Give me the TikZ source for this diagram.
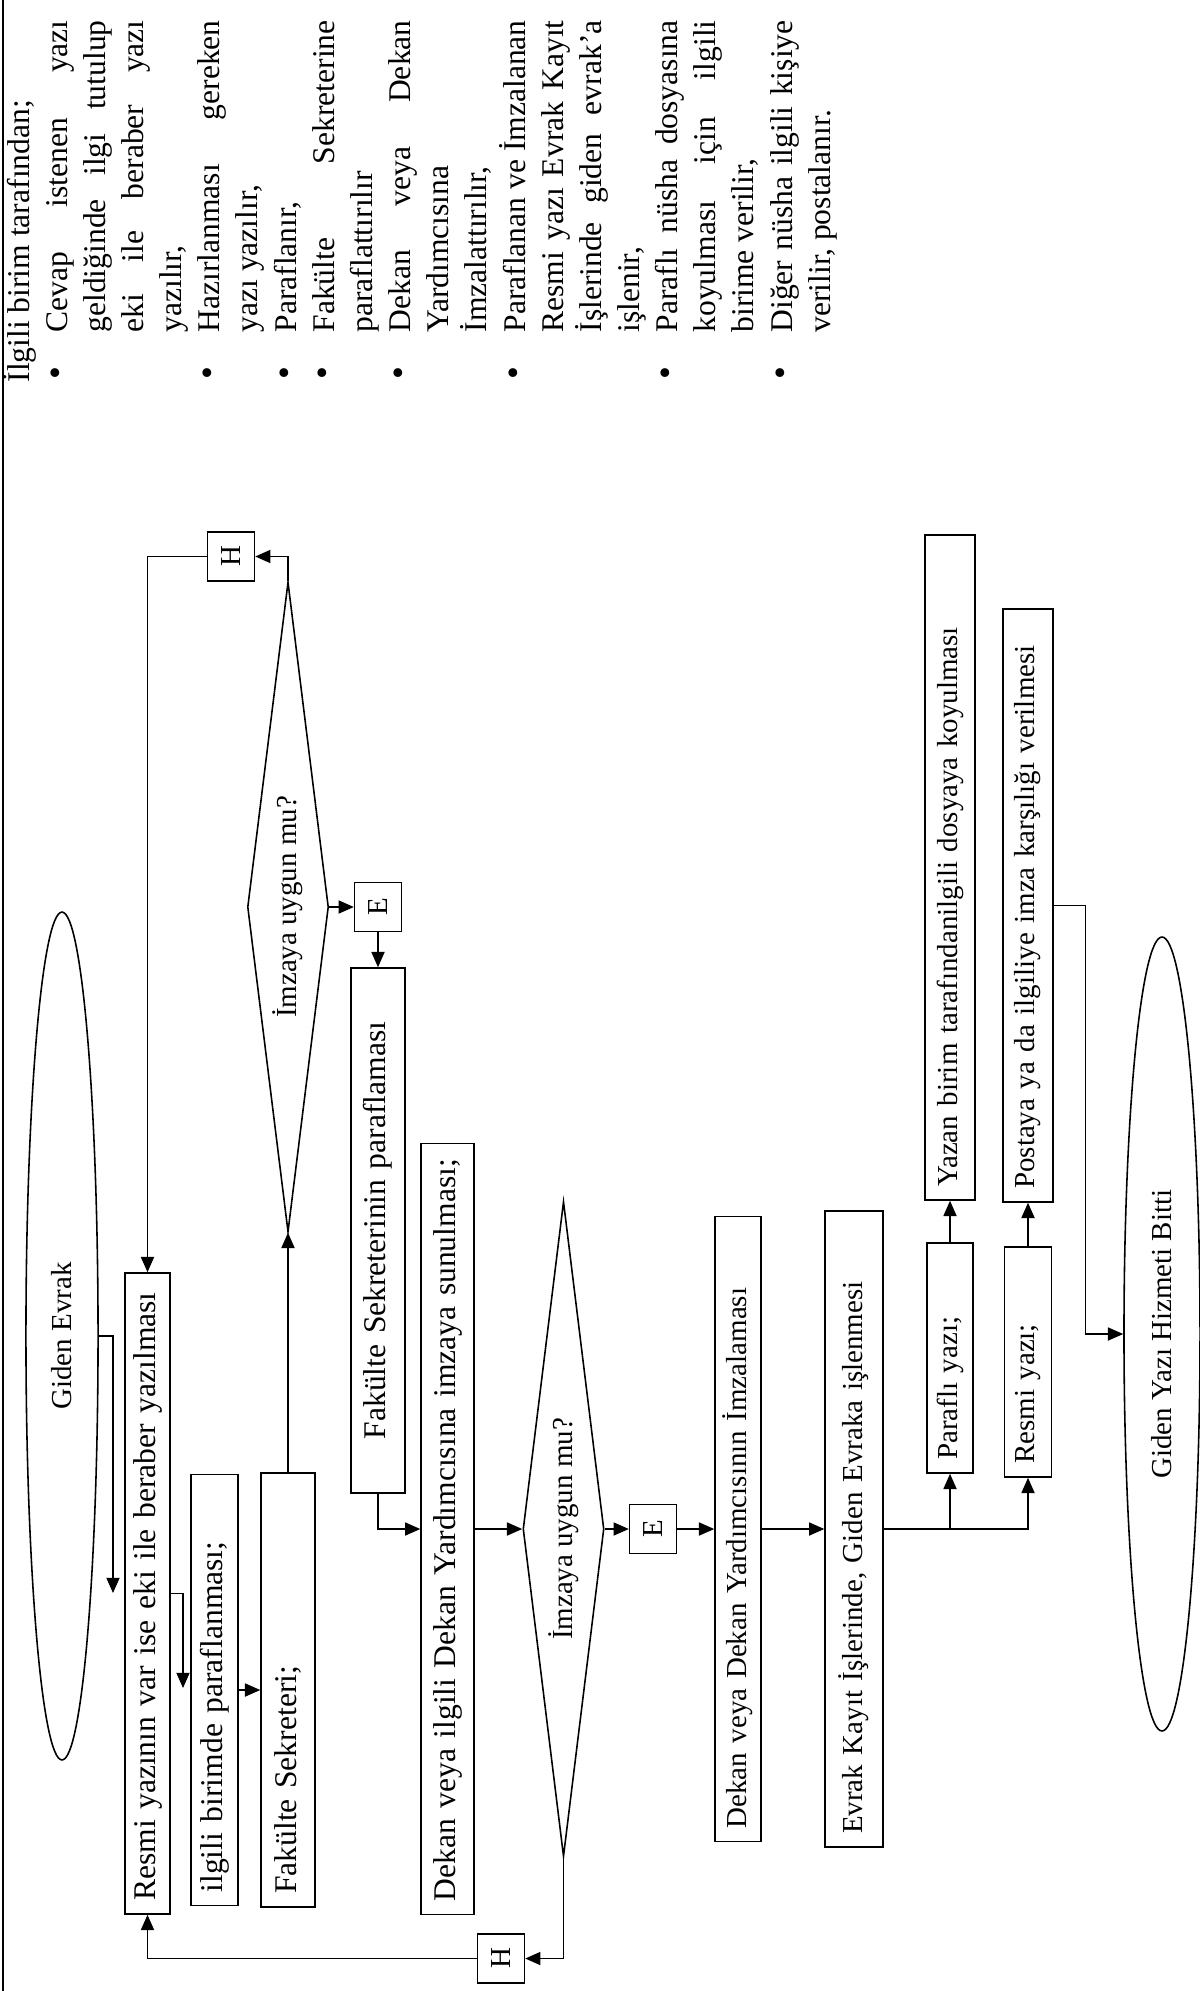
\documentclass[tikz,border=0pt]{standalone}
\usepackage{fontspec}
\setmainfont{Liberation Serif}[Ligatures=CommonOff]
\usetikzlibrary{shapes.geometric,arrows.meta}
\tikzset{
  stepbox/.style = { draw, line width=0.6pt, rotate=90, inner xsep=5pt, inner ysep=1pt, align=left },
  endloc/.style  = { draw, ellipse, line width=0.6pt, rotate=90, inner sep=1pt },
  query/.style   = { draw, diamond, aspect=8, line width=0.6pt, rotate=90, inner sep=1pt },
  tag/.style     = { draw, line width=0.6pt, rotate=90, inner sep=0pt, minimum width=18.6pt, minimum height=17.8pt },
  smalltxt/.style = { font=\fontsize{11}{13}\selectfont },
  arr/.style     = { -{Triangle[length=5.8pt,width=5pt]}, line width=0.5pt },
  notes/.style   = { rotate=90, inner sep=0pt, anchor=base west }
}
\newcommand{\jline}[1]{\makebox[\linewidth][s]{#1}}
\newcommand{\bul}{\hspace{1.3pt}{\fontsize{14}{14.5}\selectfont •}}
\begin{document}
\begin{tikzpicture}[x=0.38pt,y=-0.38pt,font=\fontsize{12}{14.5}\selectfont]
    \useasboundingbox (0,0) rectangle (1200,1991);
    \draw[line width=0.8pt] (3,0) -- (3,1991);
    % aciklama
    \node[notes] (note) at (29,383) {%
      \begin{tabular}[t]{@{}p{19pt}@{}p{118.6pt}@{}}
      \multicolumn{2}{@{}l@{}}{İlgili birim tarafından;}\\
      \bul & \jline{Cevap istenen yazı}\\
       & \jline{geldiğinde ilgi tutulup}\\
       & \jline{eki ile beraber yazı}\\
       & yazılır,\\
      \bul & \jline{Hazırlanması gereken}\\
       & yazı yazılır,\\
      \bul & Paraflanır,\\
      \bul & \jline{Fakülte Sekreterine}\\
       & paraflattırılır\\
      \bul & \jline{Dekan veya Dekan}\\
       & Yardımcısına\\
       & İmzalattırılır,\\
      \bul & \jline{Paraflanan ve İmzalanan}\\
       & \jline{Resmi yazı Evrak Kayıt}\\
       & \jline{İşlerinde giden evrak’a}\\
       & işlenir,\\
      \bul & \jline{Paraflı nüsha dosyasına}\\
       & \jline{koyulması için ilgili}\\
       & birime verilir,\\
      \bul & \jline{Diğer nüsha ilgili kişiye}\\
       & verilir, postalanır.\\
      \end{tabular}};
    % akis
    \node[endloc, smalltxt, minimum width=322.2pt, minimum height=27.4pt] (start) at (62,1336) {Giden Evrak};
    \node[stepbox, text width=233.6pt, minimum height=17.1pt] (resmi) at (147.5,1593.5) {Resmi yazının var ise eki ile beraber yazılması};
    \node[stepbox, text width=153.8pt, minimum height=17.9pt] (ilgili) at (214.5,1690) {ilgili birimde paraflanması;};
    \node[stepbox, text width=154.9pt, minimum height=20.5pt] (faksek) at (288,1690) {Fakülte Sekreteri;};
    \node[query, smalltxt, minimum width=247pt, minimum height=30.8pt] (d1) at (288,907) {İmzaya uygun mu?};
    \node[tag, smalltxt] (hTop) at (231,556.5) {H};
    \node[tag, smalltxt] (eTop) at (378,907) {E};
    \node[stepbox, text width=189.5pt, minimum height=20.5pt, align=center] (fakpar) at (378,1230.5) {Fakülte Sekreterinin paraflaması};
    \node[stepbox, text width=283pt, minimum height=20.1pt] (dekan1) at (447.5,1529) {Dekan veya ilgili Dekan Yardımcısına imzaya sunulması;};
    \node[query, smalltxt, minimum width=248.9pt, minimum height=30.8pt] (d2) at (563.5,1529) {İmzaya uygun mu?};
    \node[tag, smalltxt] (hBot) at (501,1958.5) {H};
    \node[tag, smalltxt] (eBot) at (653,1529) {E};
    \node[stepbox, smalltxt, text width=227.5pt, minimum height=17.5pt] (dekan2) at (738,1529) {Dekan veya Dekan Yardımcısının İmzalaması};
    \node[stepbox, smalltxt, text width=231.7pt, minimum height=22pt] (evrak) at (854,1529) {Evrak Kayıt İşlerinde, Giden Evraka işlenmesi};
    \node[stepbox, smalltxt, text width=77.4pt, minimum height=17.5pt] (parafli) at (950,1358) {Paraflı yazı;};
    \node[stepbox, smalltxt, text width=77.4pt, minimum height=17.9pt] (resmiyazi) at (1028,1362) {Resmi yazı;};
    \node[stepbox, smalltxt, text width=242.7pt, minimum height=19pt] (yazan) at (950,867.5) {Yazan birim tarafındanilgili dosyaya koyulması};
    \node[stepbox, smalltxt, text width=215.3pt, minimum height=19pt] (postaya) at (1028,905.5) {Postaya ya da ilgiliye imza karşılığı verilmesi};
    \node[endloc, smalltxt, minimum width=301.7pt, minimum height=28.9pt] (endE) at (1162,1334) {Giden Yazı Hizmeti Bitti};
    \coordinate (c1) at (113,1593);
    \coordinate (c2) at (183,1688);
    % baglantilar
    \draw[arr] (start.south) -| (c1);
    \draw[arr] (resmi.south) -| (c2);
    \draw[arr] (ilgili.south) -- (faksek.north);
    \draw[arr] (faksek.east) -- (d1.west);
    \draw[arr] (d1.east) |- (hTop.south);
    \draw[arr] (hTop.north) -| (resmi.east);
    \draw[arr] (d1.south) -- (eTop.north);
    \draw[arr] (eTop.west) -- (fakpar.east);
    \draw[arr] (fakpar.west) |- (dekan1.north);
    \draw[arr] (dekan1.south) -- (d2.north);
    \draw[arr] (d2.west) |- (hBot.south);
    \draw[arr] (hBot.north) -| (resmi.west);
    \draw[arr] (d2.south) -- (eBot.north);
    \draw[arr] (eBot.south) -- (dekan2.north);
    \draw[arr] (dekan2.south) -- (evrak.north);
    \draw[arr] (evrak.south) -| (parafli.west);
    \draw[arr] (evrak.south) -| (resmiyazi.west);
    \draw[arr] (parafli.east) -- (yazan.west);
    \draw[arr] (resmiyazi.east) -- (postaya.west);
    \draw[arr] (postaya.south) -- ++(32,0) |- (endE.north);
\end{tikzpicture}
\end{document}
